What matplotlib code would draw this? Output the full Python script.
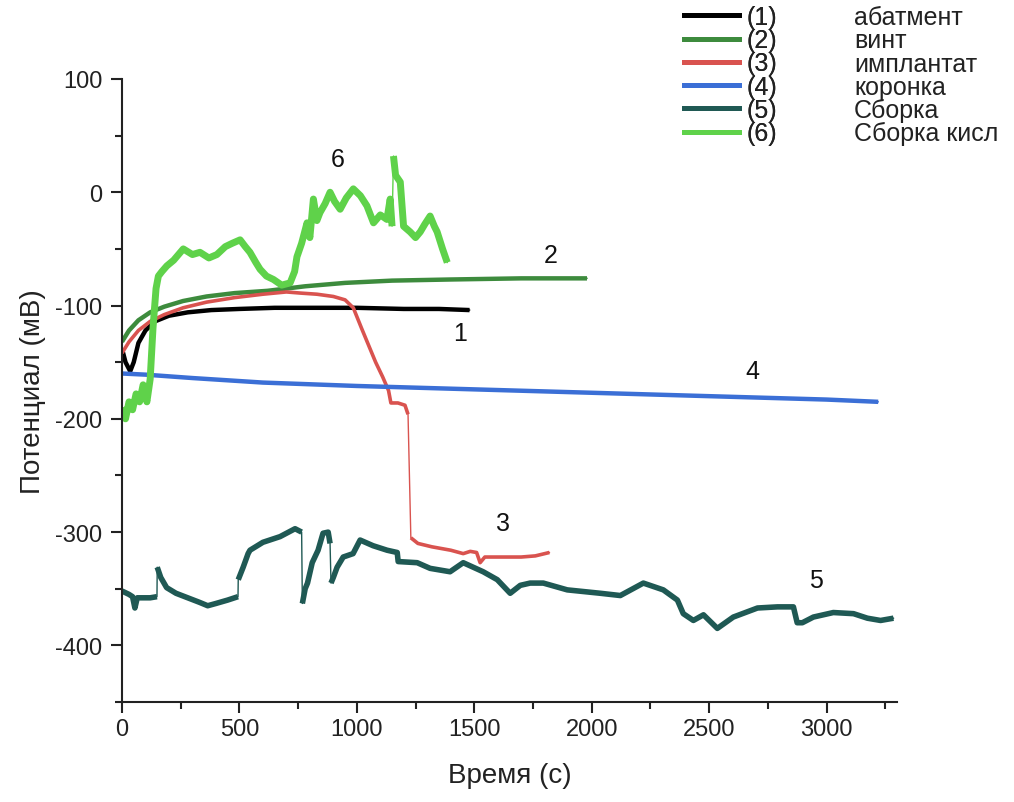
import numpy as np
import matplotlib.pyplot as plt
from matplotlib.lines import Line2D
from matplotlib.ticker import MultipleLocator

plt.rcParams['font.family'] = ['Liberation Sans', 'DejaVu Sans']
plt.rcParams['axes.unicode_minus'] = False

# (1) абатмент
t1 = [0, 15, 35, 50, 70, 100, 140, 200, 280, 380, 500, 650, 800, 1000, 1200, 1350, 1480]
v1 = [-138, -150, -158, -150, -133, -122, -114, -109, -106, -104, -103, -102, -102, -102, -103, -103, -104]

# (2) винт
t2 = [0, 30, 70, 120, 180, 260, 360, 480, 620, 780, 950, 1150, 1400, 1700, 1980]
v2 = [-132, -122, -113, -106, -101, -96, -92, -89, -87, -83, -80, -78, -77, -76, -76]

# (3) имплантат
t3 = [0, 30, 70, 120, 180, 260, 360, 480, 600, 700, 760, 830, 900, 950, 985, 1020, 1050,
      1080, 1110, 1135, 1145, 1175, 1205, 1218, 1230, 1260, 1320, 1400, 1453, 1483, 1510,
      1525, 1545, 1600, 1700, 1760, 1820]
v3 = [-142, -132, -122, -114, -108, -102, -97, -93, -90, -88, -89, -90, -92, -95, -102, -120, -135,
      -150, -163, -175, -186, -186, -188, -196, -305, -310, -313, -316, -319, -317, -318,
      -327, -322, -322, -322, -321, -318]

# (4) коронка
t4 = [0, 100, 300, 600, 1000, 1500, 2000, 2500, 3000, 3220]
v4 = [-160, -161, -164, -168, -171, -174, -177, -180, -183, -185]

# (5) Сборка
t5 = [0, 30, 45, 55, 65, 90, 120, 149, 150, 165, 190, 230, 280, 330, 365, 400, 450, 494, 495,
      516, 537, 545, 600, 673, 737, 765, 768, 780, 790, 810, 835, 856, 878, 886, 890, 900, 916,
      942, 984, 1014, 1069, 1129, 1172, 1176, 1257, 1312, 1397, 1453, 1538, 1598, 1653, 1696,
      1738, 1794, 1896, 2037, 2122, 2220, 2305, 2365, 2390, 2433, 2476, 2535, 2603, 2706, 2791,
      2859, 2875, 2897, 2944, 3029, 3115, 3174, 3230, 3285]
v5 = [-352, -355, -357, -367, -358, -358, -358, -357, -331, -340, -349, -354, -358, -362, -365,
      -363, -360, -357, -342, -331, -319, -316, -309, -304, -297, -300, -363, -350, -345, -327,
      -316, -301, -300, -310, -345, -340, -331, -322, -319, -307, -312, -316, -318, -326, -327,
      -332, -335, -327, -335, -342, -354, -347, -345, -345, -351, -354, -356, -345, -351, -360,
      -372, -378, -373, -385, -375, -367, -366, -366, -380, -380, -375, -371, -372, -376, -378,
      -376]

# (6) Сборка кисл
t6 = [0, 15, 30, 45, 60, 75, 90, 106, 120, 132, 145, 155, 170, 191, 220, 261, 300, 332, 370,
      404, 440, 470, 503, 525, 545, 570, 588, 615, 645, 680, 716, 735, 745, 765, 788, 800, 815,
      830, 843, 865, 886, 905, 929, 955, 985, 1015, 1043, 1071, 1100, 1128, 1142, 1150, 1156,
      1165, 1185, 1199, 1227, 1250, 1270, 1290, 1312, 1330, 1342, 1365, 1385]
v6 = [-190, -200, -185, -192, -178, -185, -170, -185, -165, -120, -85, -74, -70, -65, -60, -50,
      -55, -53, -58, -55, -48, -45, -42, -48, -53, -62, -68, -74, -77, -82, -80, -70, -57, -45,
      -27, -40, -6, -25, -18, -10, 0, -8, -15, -5, 3, -3, -12, -27, -20, -24, -6, -30, 32, 15,
      9, -30, -35, -40, -35, -28, -21, -30, -35, -50, -62]

nums = ['(1)', '(2)', '(3)', '(4)', '(5)', '(6)']
names = ['абатмент', 'винт', 'имплантат', 'коронка', 'Сборка', 'Сборка кисл']
colors = ['#000000', '#3d8b3d', '#d9534f', '#3b6fd6', '#1f5954', '#5fd24a']
series = [(t1, v1), (t2, v2), (t3, v3), (t4, v4), (t5, v5), (t6, v6)]
widths = [3.2, 3.2, 2.6, 3.2, 4.0, 5.0]
limits = [3, 3, 3, 3, 3, 6]
order = [4, 3, 0, 1, 2, 5]


def split_jumps(t, v, limit=3.0):
    # steep jumps are drawn thin, like the connector lines of the original
    t = np.array(t, float)
    v = np.array(v, float)
    xs, ys = [t[0]], [v[0]]
    for i in range(1, len(t)):
        if abs(v[i] - v[i - 1]) / max(t[i] - t[i - 1], 1e-6) > limit:
            xs.append(np.nan)
            ys.append(np.nan)
        xs.append(t[i])
        ys.append(v[i])
    return xs, ys


fig = plt.figure(figsize=(10.14, 8.03), dpi=100)
ax = fig.add_axes([0.1203, 0.1245, 0.7643, 0.7759])

for i in order:
    t, v = series[i]
    ax.plot(t, v, color=colors[i], lw=1.0, zorder=2 + i * 0.1)
    xs, ys = split_jumps(t, v, limits[i])
    ax.plot(xs, ys, color=colors[i], lw=widths[i], solid_capstyle='butt', zorder=2 + i * 0.1)

ax.set_xlim(0, 3300)
ax.set_ylim(-450, 100)
ax.xaxis.set_major_locator(MultipleLocator(500))
ax.xaxis.set_minor_locator(MultipleLocator(250))
ax.yaxis.set_major_locator(MultipleLocator(100))
ax.yaxis.set_minor_locator(MultipleLocator(50))
for s in ['top', 'right']:
    ax.spines[s].set_visible(False)
for s in ['left', 'bottom']:
    ax.spines[s].set_linewidth(1.5)
    ax.spines[s].set_color('#222222')
ax.tick_params(which='major', direction='out', length=8, width=1.5, labelsize=17, colors='#222222')
ax.tick_params(which='minor', direction='out', length=5, width=1.5, colors='#222222')
ax.tick_params(axis='y', which='both', pad=6)

ax.set_xlabel('Время (с)', fontsize=20, labelpad=16, color='#222222')
ax.set_ylabel('Потенциал (мВ)', fontsize=20, labelpad=7, color='#222222')

# curve numbers
lab_x = [1440, 1824, 1623, 2684, 2953, 920]
lab_y = [-124, -55, -292, -158, -342, 29]
for k in range(6):
    ax.text(lab_x[k], lab_y[k], str(k + 1), fontsize=18, ha='center', va='center', color='#111111')

# legend: handles with numbers, then the names in a second column
handles = [Line2D([], [], color=c, lw=3.5) for c in colors]
blanks = [Line2D([], [], color='none') for c in colors]
kw = dict(loc='upper left', frameon=False, fontsize=18, labelspacing=-0.03,
          borderpad=0, borderaxespad=0, handlelength=2.2, handletextpad=0.3)
leg1 = fig.legend(handles, nums, bbox_to_anchor=(684 / 1014, 1 - 6 / 803), **kw)
kw['handlelength'] = 0
kw['handletextpad'] = 0
leg2 = fig.legend(blanks, names, bbox_to_anchor=(854 / 1014, 1 - 6 / 803), **kw)
fig.add_artist(leg1)
for txt in leg1.get_texts() + leg2.get_texts():
    txt.set_color('#222222')

fig.savefig('out.png', dpi=100)
